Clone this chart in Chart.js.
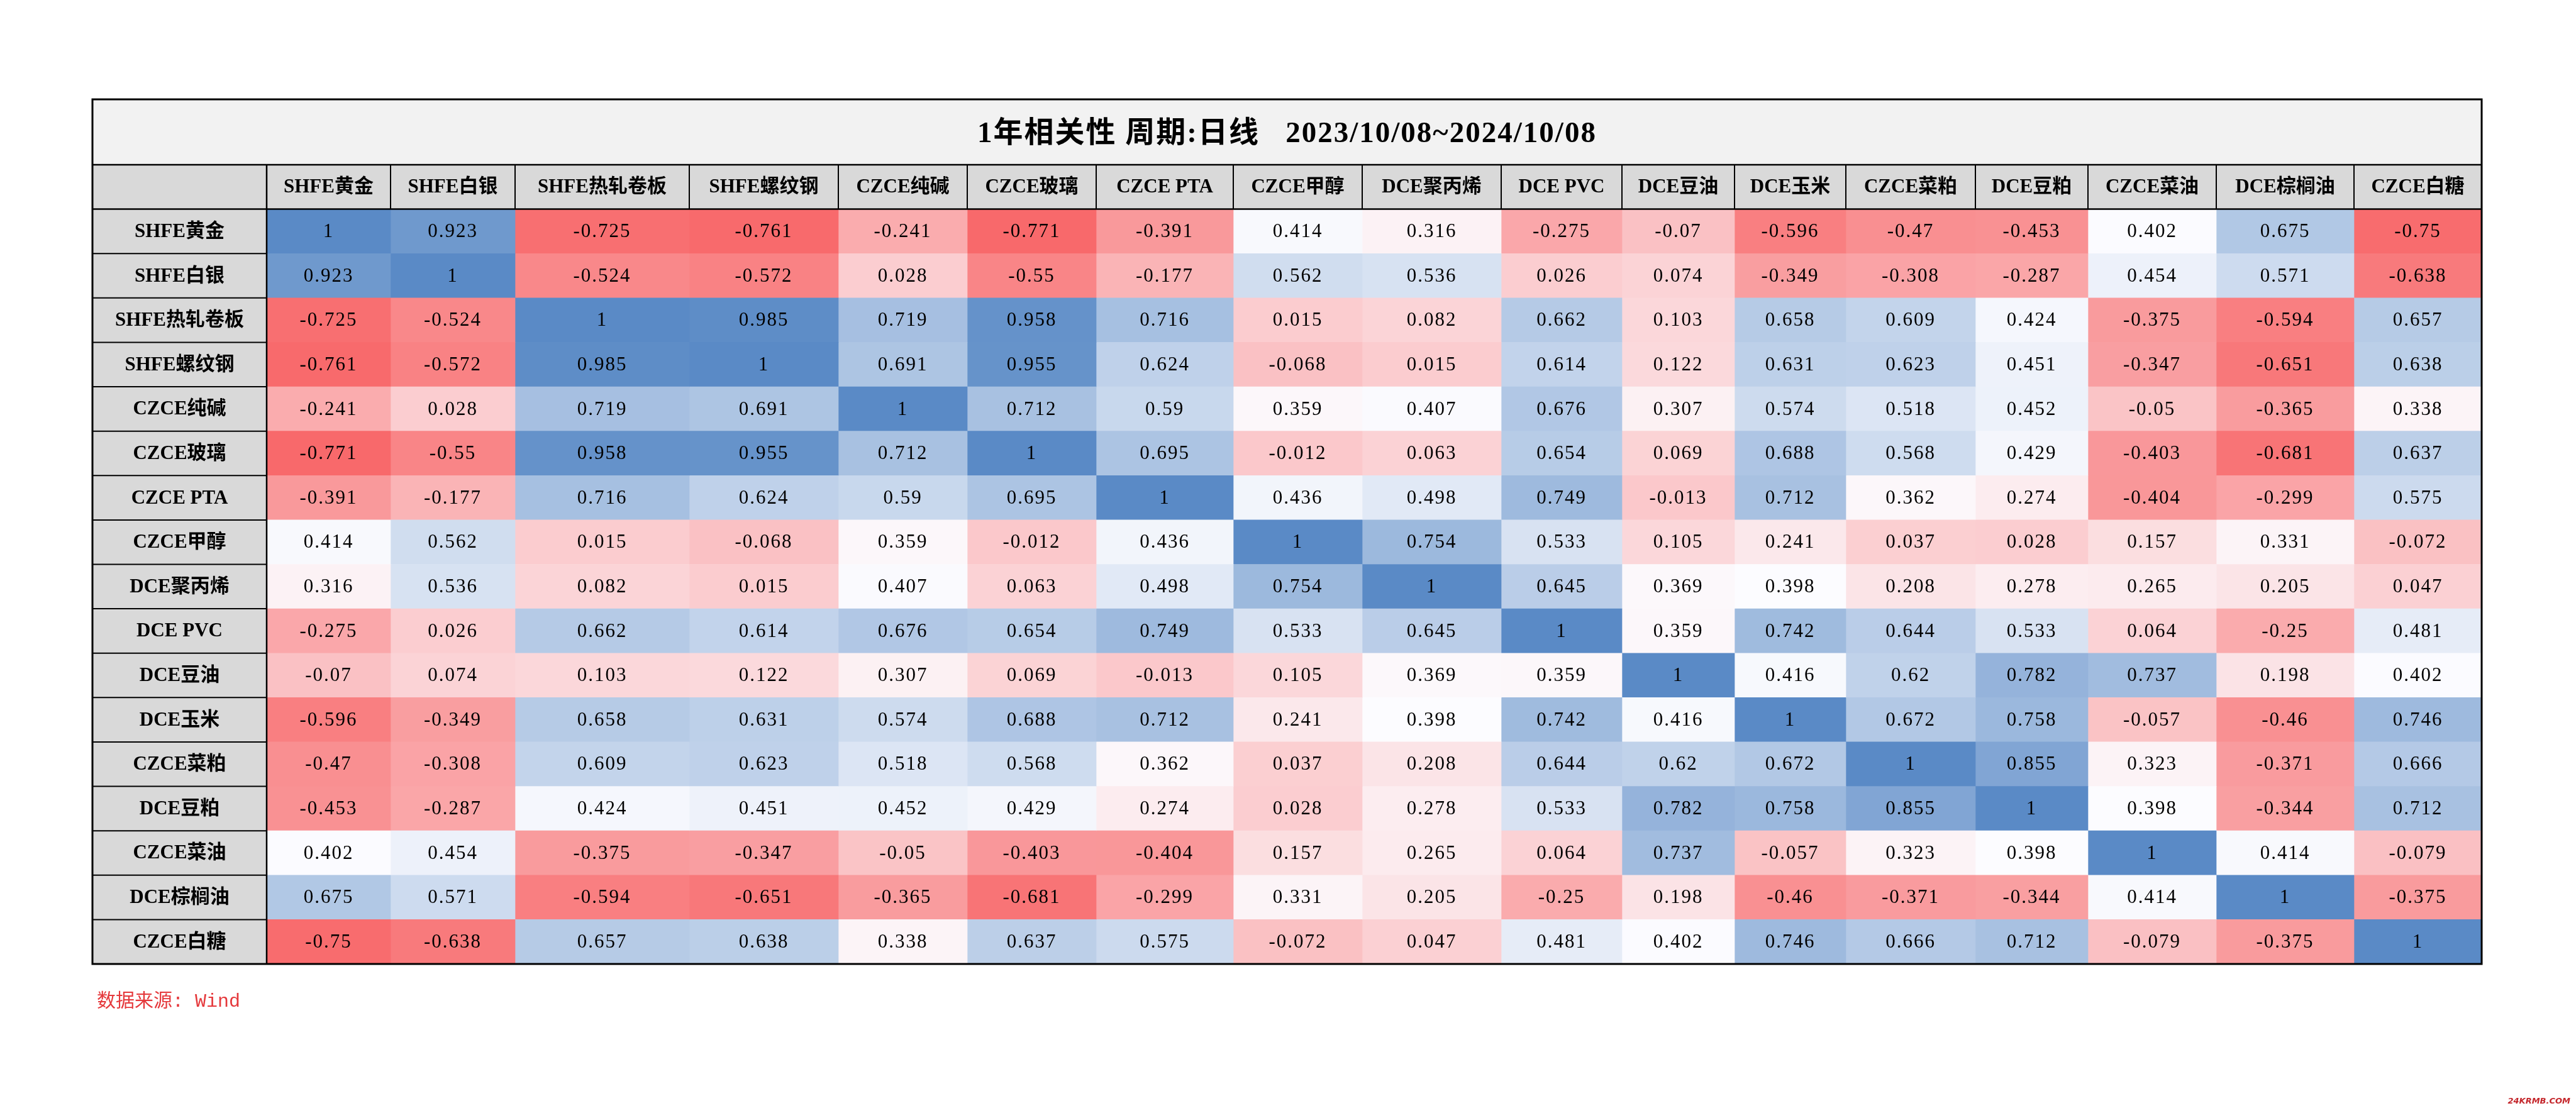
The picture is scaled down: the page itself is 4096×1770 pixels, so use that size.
<!DOCTYPE html>
<html>
<head>
<meta charset="utf-8">
<script src="https://cdn.jsdelivr.net/npm/chart.js@4.4.0/dist/chart.umd.min.js"></script>
<style>
  html, body { margin: 0; padding: 0; background: #fff; }
  canvas { display: block; }
</style>
</head>
<body>
<canvas id="corr" width="4096" height="1770"></canvas>
<script>
// 标题与来源
const titleText = '1年相关性 周期:日线   2023/10/08~2024/10/08';
const sourceText = '数据来源: Wind';
const markText = '24KRMB.COM';

// 品种名称（行、列相同）
const names = ['SHFE黄金', 'SHFE白银', 'SHFE热轧卷板', 'SHFE螺纹钢', 'CZCE纯碱', 'CZCE玻璃',
  'CZCE PTA', 'CZCE甲醇', 'DCE聚丙烯', 'DCE PVC', 'DCE豆油', 'DCE玉米', 'CZCE菜粕',
  'DCE豆粕', 'CZCE菜油', 'DCE棕榈油', 'CZCE白糖'];

// 相关系数，每行一个品种
const shfeGold     = [1, 0.923, -0.725, -0.761, -0.241, -0.771, -0.391, 0.414, 0.316, -0.275, -0.07, -0.596, -0.47, -0.453, 0.402, 0.675, -0.75];
const shfeSilver   = [0.923, 1, -0.524, -0.572, 0.028, -0.55, -0.177, 0.562, 0.536, 0.026, 0.074, -0.349, -0.308, -0.287, 0.454, 0.571, -0.638];
const shfeHotCoil  = [-0.725, -0.524, 1, 0.985, 0.719, 0.958, 0.716, 0.015, 0.082, 0.662, 0.103, 0.658, 0.609, 0.424, -0.375, -0.594, 0.657];
const shfeRebar    = [-0.761, -0.572, 0.985, 1, 0.691, 0.955, 0.624, -0.068, 0.015, 0.614, 0.122, 0.631, 0.623, 0.451, -0.347, -0.651, 0.638];
const czceSodaAsh  = [-0.241, 0.028, 0.719, 0.691, 1, 0.712, 0.59, 0.359, 0.407, 0.676, 0.307, 0.574, 0.518, 0.452, -0.05, -0.365, 0.338];
const czceGlass    = [-0.771, -0.55, 0.958, 0.955, 0.712, 1, 0.695, -0.012, 0.063, 0.654, 0.069, 0.688, 0.568, 0.429, -0.403, -0.681, 0.637];
const czcePta      = [-0.391, -0.177, 0.716, 0.624, 0.59, 0.695, 1, 0.436, 0.498, 0.749, -0.013, 0.712, 0.362, 0.274, -0.404, -0.299, 0.575];
const czceMethanol = [0.414, 0.562, 0.015, -0.068, 0.359, -0.012, 0.436, 1, 0.754, 0.533, 0.105, 0.241, 0.037, 0.028, 0.157, 0.331, -0.072];
const dcePp        = [0.316, 0.536, 0.082, 0.015, 0.407, 0.063, 0.498, 0.754, 1, 0.645, 0.369, 0.398, 0.208, 0.278, 0.265, 0.205, 0.047];
const dcePvc       = [-0.275, 0.026, 0.662, 0.614, 0.676, 0.654, 0.749, 0.533, 0.645, 1, 0.359, 0.742, 0.644, 0.533, 0.064, -0.25, 0.481];
const dceSoyOil    = [-0.07, 0.074, 0.103, 0.122, 0.307, 0.069, -0.013, 0.105, 0.369, 0.359, 1, 0.416, 0.62, 0.782, 0.737, 0.198, 0.402];
const dceCorn      = [-0.596, -0.349, 0.658, 0.631, 0.574, 0.688, 0.712, 0.241, 0.398, 0.742, 0.416, 1, 0.672, 0.758, -0.057, -0.46, 0.746];
const czceRapeMeal = [-0.47, -0.308, 0.609, 0.623, 0.518, 0.568, 0.362, 0.037, 0.208, 0.644, 0.62, 0.672, 1, 0.855, 0.323, -0.371, 0.666];
const dceSoyMeal   = [-0.453, -0.287, 0.424, 0.451, 0.452, 0.429, 0.274, 0.028, 0.278, 0.533, 0.782, 0.758, 0.855, 1, 0.398, -0.344, 0.712];
const czceRapeOil  = [0.402, 0.454, -0.375, -0.347, -0.05, -0.403, -0.404, 0.157, 0.265, 0.064, 0.737, -0.057, 0.323, 0.398, 1, 0.414, -0.079];
const dcePalmOil   = [0.675, 0.571, -0.594, -0.651, -0.365, -0.681, -0.299, 0.331, 0.205, -0.25, 0.198, -0.46, -0.371, -0.344, 0.414, 1, -0.375];
const czceSugar    = [-0.75, -0.638, 0.657, 0.638, 0.338, 0.637, 0.575, -0.072, 0.047, 0.481, 0.402, 0.746, 0.666, 0.712, -0.079, -0.375, 1];

const matrix = [shfeGold, shfeSilver, shfeHotCoil, shfeRebar, czceSodaAsh, czceGlass, czcePta,
  czceMethanol, dcePp, dcePvc, dceSoyOil, dceCorn, czceRapeMeal, dceSoyMeal, czceRapeOil,
  dcePalmOil, czceSugar];

// 版式：列宽(px)，第一列是名称列
const colWidths = [277, 197, 198, 277, 237, 205, 205, 218, 205, 221, 192, 179, 177, 206, 179, 204, 219, 203];
const titleH = 104;
const labelFont = 'bold 31px "Liberation Serif", "Noto Sans CJK SC", serif';
const valueFont = '31px "Liberation Serif", "Noto Sans CJK SC", serif';
const titleFont = 'bold 47px "Liberation Serif", "Noto Sans CJK SC", serif';
const greyCell = '#D9D9D9';

const edges = [0];
colWidths.forEach(w => edges.push(edges[edges.length - 1] + w));
const rowLabels = [' '].concat(names);

// 红-白-蓝三色色阶（最小/中位数/最大）
const allVals = matrix.flat().slice().sort((a, b) => a - b);
const vMin = allVals[0], vMax = allVals[allVals.length - 1];
const vMid = allVals[Math.floor(allVals.length / 2)];
const RED = [248, 105, 107], WHITE = [252, 252, 255], BLUE = [90, 138, 198];
function mix(a, b, t) {
  return 'rgb(' + a.map((v, i) => Math.round(v + (b[i] - v) * t)).join(',') + ')';
}
function colorFor(v) {
  if (v <= vMid) return mix(RED, WHITE, (v - vMin) / (vMid - vMin));
  return mix(WHITE, BLUE, (v - vMid) / (vMax - vMid));
}

const datasets = colWidths.map((w, c) => ({
  label: c === 0 ? '' : names[c - 1],
  data: rowLabels.map(() => [edges[c], edges[c + 1]]),
  backgroundColor: rowLabels.map((_, r) => {
    if (r === 0 || c === 0) return greyCell;
    return colorFor(matrix[r - 1][c - 1]);
  })
}));

const tablePlugin = {
  id: 'tableDecor',
  beforeDraw(chart) {
    const ctx = chart.ctx, a = chart.chartArea;
    ctx.save();
    ctx.fillStyle = '#fff';
    ctx.fillRect(0, 0, chart.width, chart.height);
    ctx.fillStyle = '#F2F2F2';
    ctx.fillRect(a.left, a.top - titleH, a.right - a.left, titleH);
    ctx.restore();
  },
  afterDatasetsDraw(chart) {
    const ctx = chart.ctx, a = chart.chartArea, xs = chart.scales.x;
    const rowH = (a.bottom - a.top) / rowLabels.length;
    ctx.save();
    ctx.textAlign = 'center';
    ctx.textBaseline = 'middle';
    ctx.fillStyle = '#000';
    chart.data.datasets.forEach((ds, c) => {
      chart.getDatasetMeta(c).data.forEach((el, r) => {
        let txt, font, sp = '0px';
        if (r === 0) { txt = c === 0 ? '' : names[c - 1]; font = labelFont; }
        else if (c === 0) { txt = names[r - 1]; font = labelFont; }
        else { txt = String(matrix[r - 1][c - 1]); font = valueFont; sp = '2px'; }
        ctx.font = font;
        ctx.letterSpacing = sp;
        ctx.fillText(txt, (el.x + el.base) / 2, el.y + 1);
      });
    });
    ctx.letterSpacing = '0px';

    // 表格线
    ctx.strokeStyle = '#000';
    const line = (x1, y1, x2, y2, w) => {
      ctx.lineWidth = w;
      ctx.beginPath(); ctx.moveTo(x1, y1); ctx.lineTo(x2, y2); ctx.stroke();
    };
    const headBottom = a.top + rowH;
    for (let i = 1; i < edges.length - 1; i++) {
      const x = xs.getPixelForValue(edges[i]);
      line(x, a.top, x, headBottom, 2);
    }
    const labelRight = xs.getPixelForValue(edges[1]);
    line(labelRight, a.top, labelRight, a.bottom, 2.5);
    for (let r = 2; r < rowLabels.length; r++) {
      const y = a.top + rowH * r;
      line(a.left, y, labelRight, y, 2);
    }
    line(a.left, headBottom, a.right, headBottom, 2.5);
    line(a.left, a.top, a.right, a.top, 2.5);
    ctx.lineWidth = 3;
    ctx.strokeRect(a.left, a.top - titleH, a.right - a.left, a.bottom - a.top + titleH);
    ctx.restore();
  },
  afterDraw(chart) {
    const ctx = chart.ctx, a = chart.chartArea;
    ctx.save();
    ctx.fillStyle = '#000';
    ctx.font = titleFont;
    ctx.letterSpacing = '2px';
    ctx.textAlign = 'center';
    ctx.textBaseline = 'middle';
    ctx.fillText(titleText, (a.left + a.right) / 2, a.top - titleH / 2 + 4);
    ctx.letterSpacing = '0px';

    ctx.fillStyle = '#E5383B';
    ctx.font = '30px "Liberation Mono", "Noto Sans CJK SC", monospace';
    ctx.textAlign = 'left';
    ctx.fillText(sourceText, a.left + 7, a.bottom + 60);

    ctx.fillStyle = '#C4262B';
    ctx.font = 'italic bold 13px "DejaVu Sans", sans-serif';
    ctx.textAlign = 'right';
    ctx.fillText(markText, chart.width - 9, chart.height - 18);
    ctx.restore();
  }
};

new Chart(document.getElementById('corr'), {
  type: 'bar',
  data: { labels: rowLabels, datasets: datasets },
  options: {
    indexAxis: 'y',
    responsive: false,
    animation: false,
    events: [],
    layout: { padding: { left: 147, right: 150, top: 262, bottom: 237 } },
    plugins: {
      legend: { display: false },
      tooltip: { enabled: false },
      title: { display: false }
    },
    datasets: {
      bar: { grouped: false, barPercentage: 1, categoryPercentage: 1, borderWidth: 0 }
    },
    scales: {
      x: { type: 'linear', min: 0, max: edges[edges.length - 1], display: false },
      y: { type: 'category', display: false, offset: true }
    }
  },
  plugins: [tablePlugin]
});
</script>
</body>
</html>
